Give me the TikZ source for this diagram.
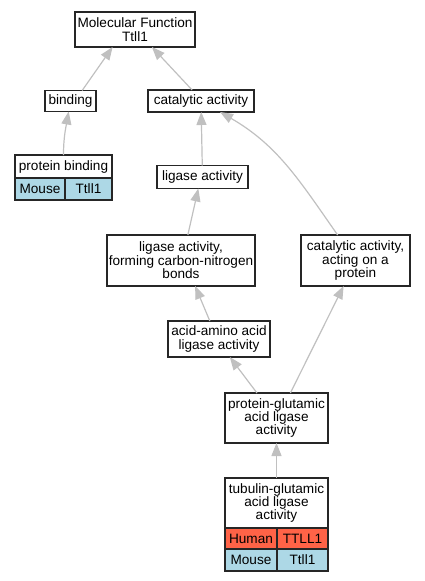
\documentclass[tikz,border=0pt]{standalone}
\usepackage{fontspec}
\setmainfont{Liberation Sans}
\usepackage{xcolor}
\usepackage{tikz}
\usetikzlibrary{arrows.meta, positioning}
\definecolor{gohuman}{HTML}{FF6347}
\definecolor{gomouse}{HTML}{ADD8E6}
\definecolor{goedge}{HTML}{C0C0C0}
\newcommand{\gofont}{\fontsize{13.6}{13.4}\selectfont}
\tikzset{
    goterm/.style={draw=black!85, line width=1.2pt, fill=white, font=\gofont, align=center,
        inner sep=0pt, outer sep=0pt, minimum height=22pt},
    gocell/.style={goterm, anchor=north west},
    isa/.style={draw=goedge, line width=1.2pt, -{Triangle[length=13pt,width=10pt]}},
}

\begin{document}
\begin{tikzpicture}[x=1pt, y=-1pt]
    \useasboundingbox (0,0) rectangle (424,581);

    % GO terms
    \node[goterm, minimum width=120pt, minimum height=35pt] (mf) at (135, 29.5) {Molecular Function\\Ttll1};
    \node[goterm, minimum width=51pt, minimum height=21pt] (bind) at (70.5, 101) {binding};
    \node[goterm, minimum width=106pt] (cat) at (201, 101) {catalytic activity};
    \node[goterm, minimum width=97pt, minimum height=23pt] (pb) at (63.5, 166.5) {protein binding};
    \node[goterm, minimum width=91pt, minimum height=23pt] (lig) at (202.5, 177) {ligase activity};
    \node[goterm, minimum width=148pt, minimum height=51pt] (cn) at (181, 260.5) {ligase activity,\\forming carbon-nitrogen\\bonds};
    \node[goterm, minimum width=109pt, minimum height=51pt] (aop) at (355.5, 260.5) {catalytic activity,\\acting on a\\protein};
    \node[goterm, minimum width=102pt, minimum height=36pt] (aa) at (219, 339) {acid-amino acid\\ligase activity};
    \node[goterm, minimum width=103pt, minimum height=50pt] (pg) at (276.5, 418) {protein-glutamic\\acid ligase\\activity};
    \node[goterm, minimum width=103pt, minimum height=50pt] (tg) at (276.5, 503) {tubulin-glutamic\\acid ligase\\activity};

    % species rows
    \node[gocell, fill=gomouse, minimum width=50pt] (pbmouse) at (pb.south west) {Mouse};
    \node[gocell, fill=gomouse, minimum width=47pt] (pbgene) at (pbmouse.north east) {Ttll1};
    \node[gocell, fill=gohuman, minimum width=52pt, minimum height=21pt] (tghuman) at (tg.south west) {Human};
    \node[gocell, fill=gohuman, minimum width=51pt, minimum height=21pt] (tghgene) at (tghuman.north east) {TTLL1};
    \node[gocell, fill=gomouse, minimum width=52pt] (tgmouse) at (tghuman.south west) {Mouse};
    \node[gocell, fill=gomouse, minimum width=51pt] (tgmgene) at (tgmouse.north east) {Ttll1};

    % is-a links
    \draw[isa] (bind.42) -- (mf.218);
    \draw[isa] (cat.129) -- (mf.-46);
    \draw[isa] (pb) to[out=90, in=-100] (bind);
    \draw[isa] (lig) -- (cat);
    \draw[isa] (aop) to[out=125, in=-30] (cat);
    \draw[isa] (cn.75) -- (lig.-110);
    \draw[isa] (aa.117) -- (cn.-61);
    \draw[isa] (pg.128) -- (aa.-59);
    \draw[isa] (pg.61) -- (aop.-115);
    \draw[isa] (tg) -- (pg);
\end{tikzpicture}
\end{document}
